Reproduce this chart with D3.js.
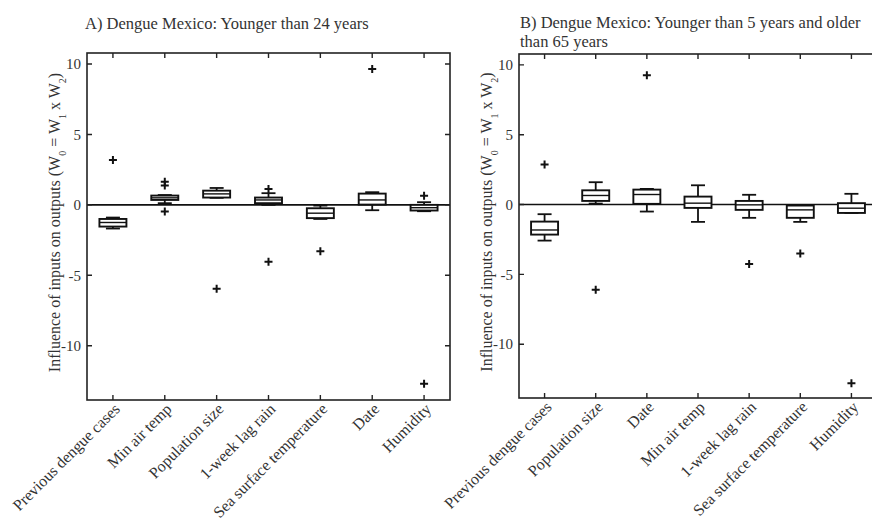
<!DOCTYPE html>
<html>
<head>
  <meta charset="utf-8">
  <script src="https://d3js.org/d3.v7.min.js"></script>
  <title>Dengue Mexico boxplots</title>
  <style>
    body { margin: 0; background: #fff; }
    text { font-family: "Liberation Serif", "Times New Roman", serif; fill: #333; }
  </style>
</head>
<body>
<script>
// panel A
var catsA = ["Previous dengue cases", "Min air temp", "Population size", "1-week lag rain", "Sea surface temperature", "Date", "Humidity"];
var lowA  = [-1.68, 0.12, 0.50, 0.00, -1.00, -0.38, -0.45];
var q1A   = [-1.54, 0.35, 0.52, 0.12, -0.94, 0.02, -0.40];
var medA  = [-1.25, 0.50, 0.78, 0.35, -0.59, 0.35, -0.20];
var q3A   = [-1.00, 0.66, 1.01, 0.52, -0.24, 0.80, 0.00];
var highA = [-0.90, 0.70, 1.20, 0.83, -0.05, 0.90, 0.19];
var outA  = [[3.19], [1.65, 1.37, -0.47], [-5.96], [1.13, -4.04], [-3.29], [9.65], [0.64, -12.7]];

// panel B
var catsB = ["Previous dengue cases", "Population size", "Date", "Min air temp", "1-week lag rain", "Sea surface temperature", "Humidity"];
var lowB  = [-2.58, 0.07, -0.50, -1.24, -0.95, -1.24, -0.60];
var q1B   = [-2.15, 0.26, 0.05, -0.24, -0.38, -0.95, -0.60];
var medB  = [-1.82, 0.65, 0.72, 0.10, -0.02, -0.38, -0.26];
var q3B   = [-1.22, 1.02, 1.07, 0.57, 0.26, -0.07, 0.10];
var highB = [-0.69, 1.60, 1.12, 1.38, 0.70, -0.05, 0.77];
var outB  = [[2.87], [-6.1], [9.25], [], [-4.25], [-3.51], [-12.8]];

var yTicks = [-10, -5, 0, 5, 10];

var svg = d3.select("body").append("svg")
  .attr("width", 872)
  .attr("height", 523);

function panel(opt) {
  var x = d3.scalePoint()
    .domain(opt.cats)
    .range([opt.left, opt.right])
    .padding(0.5);
  var y = d3.scaleLinear()
    .domain([-13.85, 10.78])
    .range([opt.bottom, opt.top]);

  var g = svg.append("g");
  var rows = opt.cats.map(function(c, i) {
    return {c: c, lo: opt.low[i], q1: opt.q1[i], med: opt.med[i], q3: opt.q3[i], hi: opt.high[i], out: opt.out[i]};
  });

  // zero line
  g.append("line")
    .attr("x1", opt.left).attr("x2", opt.right)
    .attr("y1", y(0)).attr("y2", y(0))
    .attr("stroke", "#111").attr("stroke-width", 1.6);

  var bw = 27, cw = 14;
  var b = g.selectAll(".box").data(rows).enter().append("g")
    .attr("transform", function(d) { return "translate(" + x(d.c) + ",0)"; });

  b.append("line").attr("y1", function(d) { return y(d.hi); }).attr("y2", function(d) { return y(d.q3); })
    .attr("stroke", "#111").attr("stroke-width", 1.8);
  b.append("line").attr("y1", function(d) { return y(d.q1); }).attr("y2", function(d) { return y(d.lo); })
    .attr("stroke", "#111").attr("stroke-width", 1.8);
  b.append("line").attr("x1", -cw / 2).attr("x2", cw / 2)
    .attr("y1", function(d) { return y(d.hi); }).attr("y2", function(d) { return y(d.hi); })
    .attr("stroke", "#111").attr("stroke-width", 1.8);
  b.append("line").attr("x1", -cw / 2).attr("x2", cw / 2)
    .attr("y1", function(d) { return y(d.lo); }).attr("y2", function(d) { return y(d.lo); })
    .attr("stroke", "#111").attr("stroke-width", 1.8);
  b.append("rect")
    .attr("x", -bw / 2).attr("width", bw)
    .attr("y", function(d) { return y(d.q3); })
    .attr("height", function(d) { return y(d.q1) - y(d.q3); })
    .attr("fill", "#fff").attr("stroke", "#111").attr("stroke-width", 1.9);
  b.append("line").attr("x1", -bw / 2).attr("x2", bw / 2)
    .attr("y1", function(d) { return y(d.med); }).attr("y2", function(d) { return y(d.med); })
    .attr("stroke", "#111").attr("stroke-width", 1.4);

  b.selectAll(".out").data(function(d) { return d.out; }).enter().append("path")
    .attr("d", function(v) { var yy = y(v); return "M-4," + yy + "H4M0," + (yy - 4) + "V" + (yy + 4); })
    .attr("stroke", "#111").attr("stroke-width", 2);

  // frame
  g.append("rect")
    .attr("x", opt.left).attr("y", opt.top)
    .attr("width", opt.right - opt.left).attr("height", opt.bottom - opt.top)
    .attr("fill", "none").attr("stroke", "#222").attr("stroke-width", 1.6);

  // ticks inside the frame
  var tl = 5;
  g.selectAll(".xt").data(opt.cats).enter().append("path")
    .attr("d", function(c) { return "M" + x(c) + "," + opt.bottom + "v" + (-tl) + "M" + x(c) + "," + opt.top + "v" + tl; })
    .attr("stroke", "#222").attr("stroke-width", 1.4);
  g.selectAll(".yt").data(yTicks).enter().append("path")
    .attr("d", function(v) { return "M" + opt.left + "," + y(v) + "h" + tl + "M" + opt.right + "," + y(v) + "h" + (-tl); })
    .attr("stroke", "#222").attr("stroke-width", 1.4);

  g.selectAll(".yl").data(yTicks).enter().append("text")
    .attr("x", opt.left - 6).attr("y", function(v) { return y(v); })
    .attr("dy", "0.35em").attr("text-anchor", "end")
    .style("font-size", "15px")
    .text(function(v) { return v; });

  g.selectAll(".xl").data(opt.cats).enter().append("text")
    .attr("transform", function(c) { return "translate(" + (x(c) + 8) + "," + (opt.bottom + 10) + ") rotate(-45)"; })
    .attr("text-anchor", "end")
    .style("font-size", "16px")
    .text(function(c) { return c; });

  // y axis label
  var lab = g.append("text")
    .attr("transform", "translate(" + opt.labelX + "," + ((opt.top + opt.bottom) / 2 - 4) + ") rotate(-90)")
    .attr("text-anchor", "middle")
    .style("font-size", "16px");
  lab.append("tspan").text("Influence of inputs on outputs (W");
  lab.append("tspan").attr("baseline-shift", "sub").style("font-size", "10px").text("0");
  lab.append("tspan").text(" = W");
  lab.append("tspan").attr("baseline-shift", "sub").style("font-size", "10px").text("1");
  lab.append("tspan").text(" x W");
  lab.append("tspan").attr("baseline-shift", "sub").style("font-size", "10px").text("2");
  lab.append("tspan").text(")");

  // title
  var t = g.append("text").attr("x", opt.titleX).attr("y", opt.titleY).style("font-size", "16.5px");
  opt.title.forEach(function(line, i) {
    t.append("tspan").attr("x", opt.titleX).attr("dy", i ? 19 : 0).text(line);
  });
}

panel({
  cats: catsA, low: lowA, q1: q1A, med: medA, q3: q3A, high: highA, out: outA,
  left: 87, right: 450, top: 53, bottom: 400,
  labelX: 60, titleX: 85, titleY: 29,
  title: ["A) Dengue Mexico: Younger than 24 years"]
});

panel({
  cats: catsB, low: lowB, q1: q1B, med: medB, q3: q3B, high: highB, out: outB,
  left: 519, right: 877, top: 54, bottom: 398,
  labelX: 492, titleX: 520, titleY: 28,
  title: ["B) Dengue Mexico: Younger than 5 years and older", "than 65 years"]
});
</script>
</body>
</html>
